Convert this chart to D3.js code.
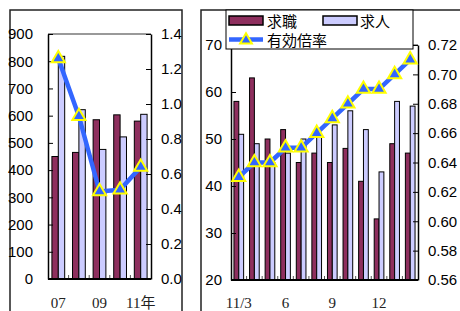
<!DOCTYPE html>
<html>
<head>
<meta charset="utf-8">
<script src="https://cdn.jsdelivr.net/npm/d3@7/dist/d3.min.js"></script>
<style>
  body { margin: 0; background: #fff; }
  .tick text { font-family: "Liberation Sans Narrow", "Liberation Sans", Arial, sans-serif; font-size: 15px; fill: #000; }
  .xlab { font-family: "Liberation Serif", "Noto Sans CJK JP", serif; font-size: 15px; fill: #222; }
  .leg { font-family: "Noto Sans CJK JP", sans-serif; font-size: 15px; fill: #000; }
</style>
</head>
<body>
<script>
// annual data (left panel)
var years = ["07", "08", "09", "10", "11"]
var yearLabels = ["07", "", "09", "", "11年"]
var seekersYear = [450, 465, 585, 603, 580]     // 求職
var openingsYear = [818, 622, 476, 522, 605]    // 求人
var ratioYear = [1.26, 0.93, 0.50, 0.51, 0.64]  // 有効倍率

// monthly data (right panel)
var months = ["11/3", "4", "5", "6", "7", "8", "9", "10", "11", "12", "1", "2"]
var monthLabels = ["11/3", "", "", "6", "", "", "9", "", "", "12", "", ""]
var seekersMonth = [58, 63, 50, 52, 45, 47, 45, 48, 41, 33, 49, 47]
var openingsMonth = [51, 49, 45, 47, 50, 51, 53, 56, 52, 43, 58, 57]
var ratioMonth = [0.63, 0.64, 0.64, 0.65, 0.65, 0.66, 0.67, 0.68, 0.69, 0.69, 0.70, 0.71]

var maroon = "#8e2f5e"
var lavender = "#ccccff"
var blue = "#3366ff"

var w = 460
var h = 311

var svg = d3.select("body")
            .append("svg")
            .attr("width", w)
            .attr("height", h)

// outer frames
svg.append("rect").attr("x", 10).attr("y", 10).attr("width", 172).attr("height", 320)
   .attr("fill", "none").attr("stroke", "#222").attr("stroke-width", 1.5)
svg.append("rect").attr("x", 201).attr("y", 10).attr("width", 280).attr("height", 320)
   .attr("fill", "none").attr("stroke", "#222").attr("stroke-width", 1.5)

function panel(cfg) {
    var g = svg.append("g")
    var x = d3.scaleBand().domain(cfg.cats).range([cfg.left, cfg.right])
    var yL = d3.scaleLinear().domain(cfg.leftDomain).range([cfg.bottom, cfg.top])
    var yR = d3.scaleLinear().domain(cfg.rightDomain).range([cfg.bottom, cfg.top])
    var bw = x.bandwidth() * 0.31

    // plot box top + right
    g.append("line").attr("x1", cfg.left).attr("x2", cfg.right).attr("y1", cfg.top).attr("y2", cfg.top)
     .attr("stroke", "#777").attr("stroke-width", 1.5)

    // bars
    g.selectAll(".b1").data(cfg.s1).enter().append("rect")
     .attr("x", function(d, i) { return x(cfg.cats[i]) + x.bandwidth() / 2 - bw })
     .attr("y", function(d) { return yL(d) })
     .attr("width", bw)
     .attr("height", function(d) { return cfg.bottom - yL(d) })
     .attr("fill", maroon).attr("stroke", "#000").attr("stroke-width", 1)
    g.selectAll(".b2").data(cfg.s2).enter().append("rect")
     .attr("x", function(d, i) { return x(cfg.cats[i]) + x.bandwidth() / 2 })
     .attr("y", function(d) { return yL(d) })
     .attr("width", bw)
     .attr("height", function(d) { return cfg.bottom - yL(d) })
     .attr("fill", lavender).attr("stroke", "#000").attr("stroke-width", 1)

    // axes
    g.append("g").attr("transform", "translate(" + cfg.left + ",0)")
     .call(d3.axisLeft(yL).tickValues(cfg.leftTicks).tickSizeInner(-5).tickSizeOuter(0).tickPadding(cfg.padL))
     .call(function(a) { a.select(".domain").attr("stroke", "#000").attr("stroke-width", 1.5) })
    g.append("g").attr("transform", "translate(" + cfg.right + ",0)")
     .call(d3.axisRight(yR).tickValues(cfg.rightTicks).tickFormat(d3.format(cfg.fmt)).tickSizeInner(-5).tickSizeOuter(0).tickPadding(cfg.padR))
     .call(function(a) { a.select(".domain").attr("stroke", "#000").attr("stroke-width", 1.5) })

    // bottom axis line and category ticks
    g.selectAll(".xt").data(cfg.cats.slice(1)).enter().append("line")
     .attr("x1", function(d) { return x(d) }).attr("x2", function(d) { return x(d) })
     .attr("y1", cfg.bottom).attr("y2", cfg.bottom - 4)
     .attr("stroke", "#555").attr("stroke-width", 1)
    g.append("line").attr("x1", cfg.left).attr("x2", cfg.right).attr("y1", cfg.bottom).attr("y2", cfg.bottom)
     .attr("stroke", "#000").attr("stroke-width", 2)

    g.selectAll(".xl").data(cfg.labels).enter().append("text")
     .attr("class", "xlab")
     .attr("x", function(d, i) { return x(cfg.cats[i]) + x.bandwidth() / 2 })
     .attr("y", 308)
     .attr("text-anchor", "middle")
     .text(function(d) { return d })

    // ratio line
    var line = d3.line()
        .x(function(d, i) { return x(cfg.cats[i]) + x.bandwidth() / 2 })
        .y(function(d) { return yR(d) })
    g.append("path").datum(cfg.ratio).attr("d", line)
     .attr("fill", "none").attr("stroke", blue).attr("stroke-width", 4.5).attr("stroke-linejoin", "round")
    g.selectAll(".tri").data(cfg.ratio).enter().append("path")
     .attr("d", d3.symbol(d3.symbolTriangle, 75))
     .attr("transform", function(d, i) { return "translate(" + (x(cfg.cats[i]) + x.bandwidth() / 2) + "," + yR(d) + ")" })
     .attr("fill", blue).attr("stroke", "#ffff00").attr("stroke-width", 2)
}

panel({
    cats: years, labels: yearLabels, s1: seekersYear, s2: openingsYear, ratio: ratioYear,
    left: 48, right: 151, top: 34, bottom: 279,
    leftDomain: [0, 900], rightDomain: [0, 1.4],
    leftTicks: d3.range(0, 901, 100), rightTicks: [0, 0.2, 0.4, 0.6, 0.8, 1.0, 1.2, 1.4],
    fmt: ".1f", padL: 15, padR: 10
})

panel({
    cats: months, labels: monthLabels, s1: seekersMonth, s2: openingsMonth, ratio: ratioMonth,
    left: 231, right: 418, top: 45, bottom: 280,
    leftDomain: [20, 70], rightDomain: [0.56, 0.72],
    leftTicks: [20, 30, 40, 50, 60, 70], rightTicks: [0.56, 0.58, 0.60, 0.62, 0.64, 0.66, 0.68, 0.70, 0.72],
    fmt: ".2f", padL: 9, padR: 10
})

// legend
var lg = svg.append("g")
lg.append("rect").attr("x", 226).attr("y", 10).attr("width", 187).attr("height", 39)
  .attr("fill", "#fff").attr("stroke", "#000").attr("stroke-width", 1)
lg.append("rect").attr("x", 229).attr("y", 16).attr("width", 34).attr("height", 9)
  .attr("fill", maroon).attr("stroke", "#000").attr("stroke-width", 1.5)
lg.append("text").attr("class", "leg").attr("x", 267).attr("y", 27).text("求職")
lg.append("rect").attr("x", 323).attr("y", 16).attr("width", 34).attr("height", 9)
  .attr("fill", lavender).attr("stroke", "#000").attr("stroke-width", 1.5)
lg.append("text").attr("class", "leg").attr("x", 360).attr("y", 27).text("求人")
lg.append("line").attr("x1", 229).attr("x2", 263).attr("y1", 39.5).attr("y2", 39.5)
  .attr("stroke", blue).attr("stroke-width", 4.5)
lg.append("path").attr("d", d3.symbol(d3.symbolTriangle, 60))
  .attr("transform", "translate(246,40)")
  .attr("fill", blue).attr("stroke", "#ffff00").attr("stroke-width", 2)
lg.append("text").attr("class", "leg").attr("x", 267).attr("y", 46).text("有効倍率")
</script>
</body>
</html>
